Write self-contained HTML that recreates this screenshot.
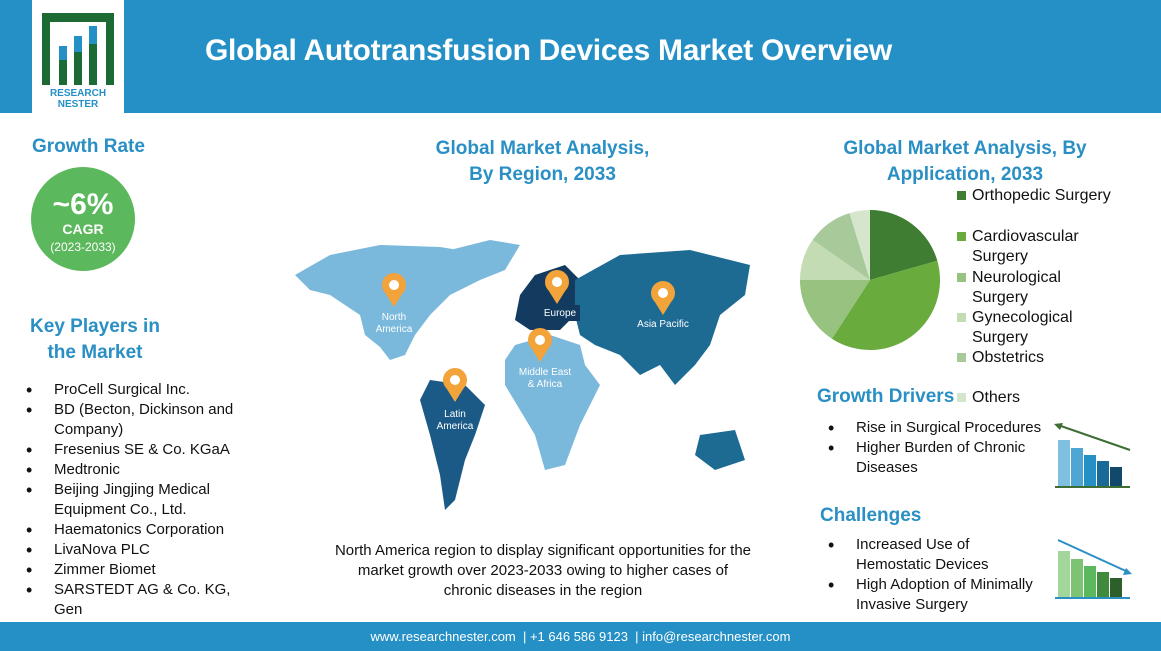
<!DOCTYPE html>
<html><head><meta charset="utf-8"><style>
*{margin:0;padding:0;box-sizing:border-box}
body{width:1161px;height:651px;position:relative;background:#fff;font-family:"Liberation Sans",sans-serif;overflow:hidden;color:#111}
.abs{position:absolute}
.h{color:#2a8fc4;font-weight:bold;font-size:19px}
ul{list-style:none}
li{position:relative;padding-left:28px;font-size:15px;line-height:20px}
li:before{content:"•";position:absolute;left:0;font-size:18px}
</style></head><body>
<div class="abs" style="left:0;top:0;width:1161px;height:113px;background:#2590c6"></div>
<div class="abs" style="left:32px;top:0;width:92px;height:113px;background:#fff">
<svg width="92" height="113" viewBox="0 0 92 113">
<path d="M10 13 H82 V85 H74 V22 H18 V85 H10Z" fill="#1c6b35"/>
<rect x="27" y="46" width="8" height="39" fill="#1c6b35"/><rect x="27" y="46" width="8" height="14" fill="#2590c6"/>
<rect x="42" y="36" width="8" height="49" fill="#1c6b35"/><rect x="42" y="36" width="8" height="16" fill="#2590c6"/>
<rect x="57" y="26" width="8" height="59" fill="#1c6b35"/><rect x="57" y="26" width="8" height="18" fill="#2590c6"/>
<text x="46" y="96" text-anchor="middle" font-size="10" font-weight="bold" fill="#2590c6" font-family="Liberation Sans">RESEARCH</text>
<text x="46" y="107" text-anchor="middle" font-size="10" font-weight="bold" fill="#2590c6" font-family="Liberation Sans">NESTER</text>
</svg></div>
<div class="abs" style="left:205px;top:34px;color:#fff;font-weight:bold;font-size:30px;letter-spacing:-0.3px">Global Autotransfusion Devices Market Overview</div>

<div class="abs h" style="left:32px;top:136px">Growth Rate</div>
<div class="abs" style="left:31px;top:167px;width:104px;height:104px;border-radius:50%;background:#5cb85c;color:#fff;text-align:center">
<div style="font-size:30px;font-weight:bold;margin-top:22px;line-height:32px">~6%</div>
<div style="font-size:14px;font-weight:bold">CAGR</div>
<div style="font-size:12px;margin-top:3px">(2023-2033)</div></div>
<div class="abs h" style="left:20px;top:314px;width:150px;text-align:center;line-height:26px">Key Players in the Market</div>
<ul class="abs" style="left:26px;top:380px;width:222px">
<li>ProCell Surgical Inc.</li><li>BD (Becton, Dickinson and Company)</li><li>Fresenius SE &amp; Co. KGaA</li><li>Medtronic</li><li>Beijing Jingjing Medical Equipment Co., Ltd.</li><li>Haematonics Corporation</li><li>LivaNova PLC</li><li>Zimmer Biomet</li><li>SARSTEDT AG &amp; Co. KG, Gen</li></ul>

<div class="abs h" style="left:420px;top:136px;width:245px;text-align:center;line-height:26px">Global Market Analysis,<br>By Region, 2033</div>
<svg class="abs" style="left:290px;top:235px" width="470" height="290" viewBox="0 0 470 290">
<path d="M5 40 L40 20 L90 10 L150 12 L200 20 L190 45 L160 60 L140 80 L125 100 L115 120 L100 125 L90 112 L75 100 L70 80 L40 60 L20 55 Z" fill="#7ab8dc"/>
<path d="M160 15 L200 5 L230 10 L215 35 L190 45 Z" fill="#7ab8dc"/>
<path d="M140 145 L175 150 L195 170 L185 200 L175 225 L165 265 L155 275 L150 240 L140 200 L130 165 Z" fill="#1b5a86"/>
<path d="M225 110 L260 100 L290 110 L295 130 L310 150 L290 190 L275 230 L255 235 L245 200 L230 175 L215 150 L215 125 Z" fill="#7ab8dc"/>
<path d="M230 60 L245 40 L275 30 L290 45 L285 80 L270 95 L240 95 L225 85 Z" fill="#123b5f"/>
<path d="M285 45 L330 20 L400 15 L460 30 L455 60 L430 80 L420 110 L405 130 L385 150 L370 130 L350 140 L330 120 L305 110 L290 100 L285 80 Z" fill="#1d6a93"/>
<path d="M410 200 L445 195 L455 225 L425 235 L405 220 Z" fill="#1d6a93"/>
<g fill="#f2a33a"><circle cx="104" cy="50" r="12"/><path d="M94 56 L104 72 L114 56Z"/>
<circle cx="267" cy="47" r="12"/><path d="M257 53 L267 69 L277 53Z"/>
<circle cx="373" cy="58" r="12"/><path d="M363 64 L373 80 L383 64Z"/>
<circle cx="250" cy="105" r="12"/><path d="M240 111 L250 127 L260 111Z"/>
<circle cx="165" cy="145" r="12"/><path d="M155 151 L165 167 L175 151Z"/></g>
<g fill="#fff"><circle cx="104" cy="50" r="5"/><circle cx="267" cy="47" r="5"/><circle cx="373" cy="58" r="5"/><circle cx="250" cy="105" r="5"/><circle cx="165" cy="145" r="5"/></g>
<g fill="#fff" font-size="10" font-family="Liberation Sans" text-anchor="middle">
<text x="104" y="85">North</text><text x="104" y="97">America</text>
<rect x="245" y="70" width="45" height="16" fill="#123b5f"/><text x="270" y="81">Europe</text>
<text x="373" y="92">Asia Pacific</text>
<text x="255" y="140">Middle East</text><text x="255" y="152">&amp; Africa</text>
<text x="165" y="182">Latin</text><text x="165" y="194">America</text></g>
</svg>
<div class="abs" style="left:332px;top:541px;width:422px;text-align:center;font-size:15px;line-height:20px">North America region to display significant opportunities for the market growth over 2023-2033 owing to higher cases of chronic diseases in the region</div>

<div class="abs h" style="left:820px;top:136px;width:290px;text-align:center;line-height:26px">Global Market Analysis, By<br>Application, 2033</div>
<svg class="abs" style="left:795px;top:205px" width="150" height="150" viewBox="-75 -75 150 150">
<path d="M0 0 L0 -70 A70 70 0 0 1 67.3 -19.3Z" fill="#3e7d32"/>
<path d="M0 0 L67.3 -19.3 A70 70 0 0 1 -38.1 58.7Z" fill="#6aab3e"/>
<path d="M0 0 L-38.1 58.7 A70 70 0 0 1 -70 0Z" fill="#97c27f"/>
<path d="M0 0 L-70 0 A70 70 0 0 1 -57.3 -40.1Z" fill="#c4dcb4"/>
<path d="M0 0 L-57.3 -40.1 A70 70 0 0 1 -20.5 -66.9Z" fill="#a8c99a"/>
<path d="M0 0 L-20.5 -66.9 A70 70 0 0 1 0 -70Z" fill="#d6e6cc"/>
</svg>
<div class="abs" style="left:957px;top:186px;font-size:16px;line-height:20px">
<div style="position:absolute;top:0;left:0;white-space:nowrap"><span style="display:inline-block;width:9px;height:9px;background:#3e7d32;margin-right:6px"></span>Orthopedic Surgery</div>
<div style="position:absolute;top:41px;left:0;width:158px;padding-left:15px;text-indent:-15px"><span style="display:inline-block;width:9px;height:9px;background:#6aab3e;margin-right:6px"></span>Cardiovascular Surgery</div>
<div style="position:absolute;top:82px;left:0;width:158px;padding-left:15px;text-indent:-15px"><span style="display:inline-block;width:9px;height:9px;background:#97c27f;margin-right:6px"></span>Neurological Surgery</div>
<div style="position:absolute;top:122px;left:0;width:158px;padding-left:15px;text-indent:-15px"><span style="display:inline-block;width:9px;height:9px;background:#c4dcb4;margin-right:6px"></span>Gynecological Surgery</div>
<div style="position:absolute;top:162px;left:0;white-space:nowrap"><span style="display:inline-block;width:9px;height:9px;background:#a8c99a;margin-right:6px"></span>Obstetrics</div>
<div style="position:absolute;top:202px;left:0;white-space:nowrap"><span style="display:inline-block;width:9px;height:9px;background:#d6e6cc;margin-right:6px"></span>Others</div>
</div>
<div class="abs h" style="left:817px;top:386px">Growth Drivers</div>
<ul class="abs" style="left:828px;top:418px;width:222px"><li>Rise in Surgical Procedures</li><li>Higher Burden of Chronic Diseases</li></ul>
<svg class="abs" style="left:1050px;top:420px" width="90" height="75">
<line x1="80" y1="30" x2="8" y2="5" stroke="#3e6e35" stroke-width="2"/><path d="M4 4 L13 3 L10 10Z" fill="#3e6e35"/>
<rect x="8" y="20" width="12" height="47" fill="#7fbfe0"/><rect x="21" y="28" width="12" height="39" fill="#4ea6d4"/><rect x="34" y="35" width="12" height="32" fill="#2590c6"/><rect x="47" y="41" width="12" height="26" fill="#1a6a98"/><rect x="60" y="47" width="12" height="20" fill="#12486b"/>
<line x1="5" y1="67" x2="80" y2="67" stroke="#3e6e35" stroke-width="2"/></svg>
<div class="abs h" style="left:820px;top:505px">Challenges</div>
<ul class="abs" style="left:828px;top:535px;width:210px"><li>Increased Use of Hemostatic Devices</li><li>High Adoption of Minimally Invasive Surgery</li></ul>
<svg class="abs" style="left:1050px;top:535px" width="90" height="70">
<line x1="8" y1="5" x2="78" y2="37" stroke="#2a8fc4" stroke-width="2"/><path d="M82 39 L73 40 L76 33Z" fill="#2a8fc4"/>
<rect x="8" y="16" width="12" height="47" fill="#a2d69a"/><rect x="21" y="24" width="12" height="39" fill="#7cc474"/><rect x="34" y="31" width="12" height="32" fill="#5cb85c"/><rect x="47" y="37" width="12" height="26" fill="#3f8a3c"/><rect x="60" y="43" width="12" height="20" fill="#2d5f2a"/>
<line x1="5" y1="63" x2="80" y2="63" stroke="#2a8fc4" stroke-width="2"/></svg>

<div class="abs" style="left:0;top:622px;width:1161px;height:29px;background:#2590c6;color:#fff;text-align:center;font-size:13px;line-height:29px">www.researchnester.com &nbsp;| +1 646 586 9123 &nbsp;| info@researchnester.com</div>
</body></html>
